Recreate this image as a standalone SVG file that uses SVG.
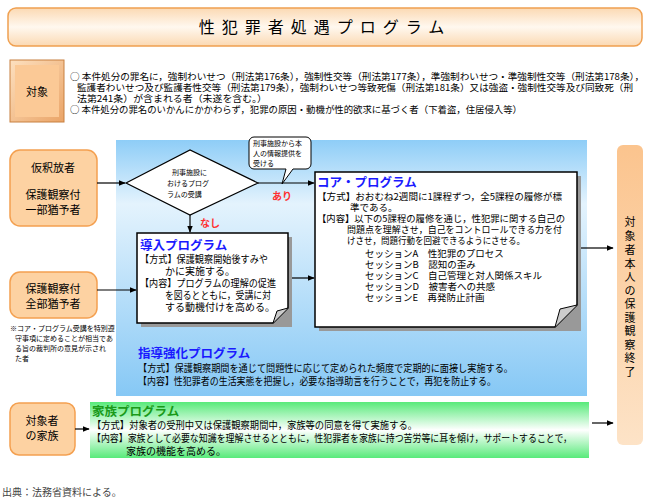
<svg xmlns="http://www.w3.org/2000/svg" width="652" height="499" viewBox="0 0 652 499">
<style>
text{font-family:"Noto Sans CJK JP","Noto Sans CJK SC",sans-serif;fill:#000}
.t{font-size:10px}
.u{font-size:9.5px}
.h{font-size:12.5px;font-weight:bold;fill:#1a1aff}
.node{fill:#fdd2a2;stroke:#f4a050;stroke-width:1.5}
.box{fill:#fff;stroke:#000;stroke-width:1.5}
.ln{stroke:#000;stroke-width:1.2;fill:none}
.red{font-size:10px;font-weight:bold;fill:#ff3030}
</style>
<defs>
<marker id="a" viewBox="0 0 10 10" refX="9" refY="5" markerWidth="6" markerHeight="6" orient="auto"><path d="M0,1L10,5L0,9z" fill="#000"/></marker>
<linearGradient id="gt" x1="0" y1="0" x2="0" y2="1"><stop offset="0" stop-color="#fbd9b3"/><stop offset="0.5" stop-color="#fff8ef"/><stop offset="1" stop-color="#fbd9b3"/></linearGradient>
<linearGradient id="gb" x1="0" y1="0" x2="0" y2="1"><stop offset="0" stop-color="#8ecdf7"/><stop offset="0.25" stop-color="#e4f3fd"/><stop offset="1" stop-color="#86c8f5"/></linearGradient>
<linearGradient id="gg" x1="0" y1="0" x2="0" y2="1"><stop offset="0" stop-color="#58ea7a"/><stop offset="0.5" stop-color="#ffffff"/><stop offset="1" stop-color="#58ea7a"/></linearGradient>
<linearGradient id="ge" x1="0" y1="0" x2="0" y2="1"><stop offset="0" stop-color="#fbc48e"/><stop offset="1" stop-color="#fde3c7"/></linearGradient>
<linearGradient id="gk" x1="0" y1="0" x2="1" y2="1"><stop offset="0" stop-color="#fde0bf"/><stop offset="1" stop-color="#eaa467"/></linearGradient>
</defs>
<g id="title"><rect x="8" y="8" width="634" height="38" rx="8" fill="url(#gt)" stroke="#f0a050" stroke-width="1.5"/>
<text x="325" y="33" text-anchor="middle" style="font-size:16px" letter-spacing="7">性犯罪者処遇プログラム</text></g>
<g id="target"><rect x="10" y="60" width="54" height="62" fill="url(#gk)" stroke="#c88040"/>
<rect x="15" y="65" width="44" height="52" fill="#fbc996"/>
<text x="37" y="96" text-anchor="middle" style="font-size:11px">対象</text>
<text class="u" x="70" y="80" textLength="574" lengthAdjust="spacingAndGlyphs">○  本件処分の罪名に，強制わいせつ（刑法第176条），強制性交等（刑法第177条），準強制わいせつ・準強制性交等（刑法第178条），</text>
<text class="u" x="77" y="91" textLength="556" lengthAdjust="spacingAndGlyphs">監護者わいせつ及び監護者性交等（刑法第179条），強制わいせつ等致死傷（刑法第181条）又は強盗・強制性交等及び同致死（刑</text>
<text class="u" x="77" y="102" textLength="190" lengthAdjust="spacingAndGlyphs">法第241条）が含まれる者（未遂を含む。）</text>
<text class="u" x="70" y="113" textLength="452" lengthAdjust="spacingAndGlyphs">○  本件処分の罪名のいかんにかかわらず，犯罪の原因・動機が性的欲求に基づく者（下着盗，住居侵入等）</text></g>
<rect x="116" y="140" width="471" height="256" fill="url(#gb)"/>
<g id="n1"><rect class="node" x="10" y="150" width="87" height="76" rx="10"/>
<text x="53" y="172" text-anchor="middle" style="font-size:11px">仮釈放者</text>
<text x="53" y="199" text-anchor="middle" style="font-size:11px">保護観察付</text>
<text x="53" y="214" text-anchor="middle" style="font-size:11px">一部猶予者</text></g>
<g id="n2"><rect class="node" x="10" y="272" width="87" height="46" rx="10"/>
<text x="53" y="293" text-anchor="middle" style="font-size:11px">保護観察付</text>
<text x="53" y="308" text-anchor="middle" style="font-size:11px">全部猶予者</text></g>
<g id="note"><text style="font-size:7px" x="10" y="331">※コア・プログラム受講を特別遵</text>
<text style="font-size:7px" x="15" y="341">守事項に定めることが相当であ</text>
<text style="font-size:7px" x="15" y="351">る旨の裁判所の意見が示され</text>
<text style="font-size:7px" x="15" y="361">た者</text></g>
<g id="dec"><path d="M126,183L190,150L258,183L190,215z" fill="#fff" stroke="#000" stroke-width="1.2"/>
<text x="172" y="175" style="font-size:7px">刑事施設に</text><text x="167" y="186" style="font-size:7px">おけるプログ</text><text x="167" y="197" style="font-size:7px">ラムの受講</text></g>
<g id="callout"><path d="M254,137H306a5,5 0 0 1 5,5V164a5,5 0 0 1-5,5H293L282,184L286,169H254a5,5 0 0 1-5-5V142a5,5 0 0 1 5-5z" fill="#fff" stroke="#000"/>
<text x="253" y="146" style="font-size:7px">刑事施設から本</text><text x="253" y="156" style="font-size:7px">人の情報提供を</text><text x="253" y="166" style="font-size:7px">受ける</text></g>
<g id="intro"><rect x="141" y="237" width="151" height="90" fill="#999"/>
<path d="M137,233H288V308L273,323H137z" class="box"/><path d="M273,323L277,311L288,308" fill="#ccc" stroke="#000"/>
<text x="140" y="250" class="h">導入プログラム</text>
<text class="t" x="140" y="263" textLength="128" lengthAdjust="spacingAndGlyphs">【方式】保護観察開始後すみや</text>
<text class="t" x="165" y="275">かに実施する。</text>
<text class="t" x="140" y="287" textLength="136" lengthAdjust="spacingAndGlyphs">【内容】プログラムの理解の促進</text>
<text class="t" x="165" y="299" textLength="106" lengthAdjust="spacingAndGlyphs">を図るとともに，受講に対</text>
<text class="t" x="165" y="311">する動機付けを高める。</text></g>
<g id="core"><rect x="319" y="176" width="262" height="155" fill="#999"/>
<path d="M315,172H577V305L555,327H315z" class="box"/><path d="M555,327L560,309L577,305" fill="#ccc" stroke="#000"/>
<text x="317" y="187" class="h">コア・プログラム</text>
<text class="u" x="317" y="200" textLength="245" lengthAdjust="spacingAndGlyphs">【方式】おおむね2週間に1課程ずつ，全5課程の履修が標</text>
<text class="u" x="350" y="211">準である。</text>
<text class="u" x="317" y="222" textLength="248" lengthAdjust="spacingAndGlyphs">【内容】以下の5課程の履修を通じ，性犯罪に関する自己の</text>
<text class="u" x="347" y="233" textLength="215" lengthAdjust="spacingAndGlyphs">問題点を理解させ，自己をコントロールできる力を付</text>
<text class="u" x="347" y="244" textLength="178" lengthAdjust="spacingAndGlyphs">けさせ，問題行動を回避できるようにさせる。</text>
<text class="u" x="365" y="257">セッションA　性犯罪のプロセス</text>
<text class="u" x="365" y="268">セッションB　認知の歪み</text>
<text class="u" x="365" y="279">セッションC　自己管理と対人関係スキル</text>
<text class="u" x="365" y="290">セッションD　被害者への共感</text>
<text class="u" x="365" y="301">セッションE　再発防止計画</text></g>
<g id="guide"><text x="138" y="358" class="h">指導強化プログラム</text>
<text class="t" x="138" y="372" textLength="375" lengthAdjust="spacingAndGlyphs">【方式】保護観察期間を通じて問題性に応じて定められた頻度で定期的に面接し実施する。</text>
<text class="t" x="138" y="385" textLength="358" lengthAdjust="spacingAndGlyphs">【内容】性犯罪者の生活実態を把握し，必要な指導助言を行うことで，再犯を防止する。</text></g>
<g id="fam"><rect class="node" x="10" y="403" width="65" height="52" rx="9"/>
<text x="42" y="425" text-anchor="middle" style="font-size:11px">対象者</text>
<text x="42" y="440" text-anchor="middle" style="font-size:11px">の家族</text></g>
<g id="famprog"><rect x="90" y="402" width="499" height="56" fill="url(#gg)"/>
<text x="92" y="416" style="font-size:12.5px;font-weight:bold;fill:#1a9a1a">家族プログラム</text>
<text class="t" x="92" y="429" textLength="325" lengthAdjust="spacingAndGlyphs">【方式】対象者の受刑中又は保護観察期間中，家族等の同意を得て実施する。</text>
<text class="t" x="92" y="442" textLength="480" lengthAdjust="spacingAndGlyphs">【内容】家族として必要な知識を理解させるとともに，性犯罪者を家族に持つ苦労等に耳を傾け，サポートすることで，</text>
<text class="t" x="126" y="455">家族の機能を高める。</text></g>
<g id="end"><rect x="617" y="145" width="26" height="300" rx="6" fill="url(#ge)"/>
<text style="font-size:11px" text-anchor="middle"><tspan x="630" y="226">対</tspan><tspan x="630" y="240">象</tspan><tspan x="630" y="254">者</tspan><tspan x="630" y="268">本</tspan><tspan x="630" y="281">人</tspan><tspan x="630" y="295">の</tspan><tspan x="630" y="308">保</tspan><tspan x="630" y="322">護</tspan><tspan x="630" y="335">観</tspan><tspan x="630" y="349">察</tspan><tspan x="630" y="362">終</tspan><tspan x="630" y="376">了</tspan></text></g>
<g id="connectors">
<path class="ln" d="M97,183H125" marker-end="url(#a)"/>
<path class="ln" d="M258,183H314" marker-end="url(#a)"/>
<path class="ln" d="M190,215V232" marker-end="url(#a)"/>
<path class="ln" d="M97,290H136" marker-end="url(#a)"/>
<path class="ln" d="M292,278H314" marker-end="url(#a)"/>
<path class="ln" d="M581,248H613" marker-end="url(#a)"/>
<path class="ln" d="M75,429H89" marker-end="url(#a)"/>
<path class="ln" d="M592,423H613" marker-end="url(#a)"/>
</g>
<text x="272" y="200" class="red">あり</text>
<text x="200" y="227" class="red">なし</text>
<text x="2" y="496" style="font-size:10px;fill:#444">出典：法務省資料による。</text>
</svg>
